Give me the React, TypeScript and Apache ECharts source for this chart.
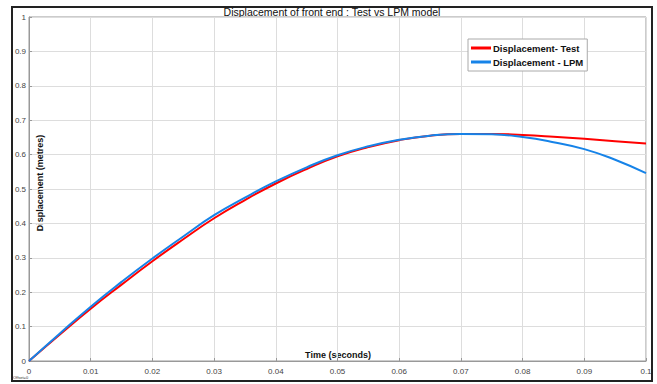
import React, { useEffect, useRef } from "react";
import * as echarts from "echarts";

const timeValues = [0, 0.005, 0.01, 0.015, 0.02, 0.025, 0.03, 0.035, 0.04, 0.045, 0.05, 0.055, 0.06, 0.065, 0.07, 0.075, 0.08, 0.085, 0.09, 0.095, 0.1];
const testValues = [0, 0.077, 0.152, 0.222, 0.29, 0.354, 0.415, 0.468, 0.516, 0.558, 0.595, 0.622, 0.642, 0.655, 0.66, 0.66, 0.657, 0.652, 0.646, 0.639, 0.632];
const lpmValues = [0, 0.08, 0.158, 0.23, 0.298, 0.362, 0.424, 0.475, 0.522, 0.563, 0.598, 0.624, 0.643, 0.655, 0.66, 0.659, 0.651, 0.636, 0.616, 0.585, 0.546];
const seriesNames = ["Displacement- Test", "Displacement - LPM"];
const titleText = "Displacement of front end : Test vs LPM model";
const xLabel = "Time (seconds)";
const yLabel = "Displacement (metres)";

export default function App() {
  const ref = useRef<HTMLDivElement>(null);
  useEffect(() => {
    if (!ref.current) return;
    const chart = echarts.init(ref.current, null, { renderer: "svg" });
    const font = "Liberation Sans, Arial, sans-serif";
    chart.setOption({
      animation: false,
      backgroundColor: "#ffffff",
      textStyle: { fontFamily: font },
      grid: { left: 29, top: 17, right: 11, bottom: 23, containLabel: false, show: true, borderColor: "#999", borderWidth: 1 },
      legend: {
        left: 468,
        top: 39,
        orient: "vertical",
        itemWidth: 20,
        itemHeight: 3,
        itemGap: 4,
        padding: [4, 4, 4, 3],
        borderColor: "#aaa",
        borderWidth: 1,
        backgroundColor: "#fff",
        icon: "rect",
        textStyle: { fontSize: 9.5, fontWeight: "bold", color: "#111", fontFamily: font, padding: [0, 0, 0, -3] },
        data: seriesNames,
      },
      xAxis: {
        type: "value",
        min: 0,
        max: 0.1,
        interval: 0.01,
        axisLine: { show: true, lineStyle: { color: "#999" } },
        axisTick: { show: true, inside: true, length: 3, lineStyle: { color: "#999" } },
        axisLabel: { fontSize: 8, color: "#444", margin: 6, formatter: (v: number) => String(parseFloat(v.toFixed(2))) },
        splitLine: { show: true, lineStyle: { color: "#ddd", width: 1 } },
      },
      yAxis: {
        type: "value",
        min: 0,
        max: 1,
        interval: 0.1,
        axisLine: { show: true, lineStyle: { color: "#999" } },
        axisTick: { show: true, inside: true, length: 3, lineStyle: { color: "#999" } },
        axisLabel: { fontSize: 8, color: "#444", margin: 3, formatter: (v: number) => String(parseFloat(v.toFixed(1))) },
        splitLine: { show: true, lineStyle: { color: "#ddd", width: 1 } },
      },
      series: [
        {
          name: seriesNames[0],
          type: "line",
          smooth: true,
          showSymbol: false,
          lineStyle: { color: "#ff0000", width: 2 },
          itemStyle: { color: "#ff0000" },
          data: timeValues.map((t, i) => [t, testValues[i]]),
        },
        {
          name: seriesNames[1],
          type: "line",
          smooth: true,
          showSymbol: false,
          lineStyle: { color: "#1683e8", width: 2 },
          itemStyle: { color: "#1683e8" },
          data: timeValues.map((t, i) => [t, lpmValues[i]]),
        },
      ],
      graphic: [
        {
          type: "rect",
          shape: { x: 12, y: 7, width: 640, height: 374 },
          style: { fill: "none", stroke: "#222", lineWidth: 2 },
          silent: true,
          z: 100,
        },
        {
          type: "text",
          x: 332,
          y: 12,
          style: { text: titleText, fontSize: 10.5, fill: "#111", fontFamily: font, align: "center", verticalAlign: "middle" },
        },
        {
          type: "text",
          x: 338,
          y: 355,
          style: { text: xLabel, fontSize: 9, fontWeight: "bold", fill: "#111", fontFamily: font, align: "center", verticalAlign: "middle" },
        },
        {
          type: "text",
          x: 40,
          y: 183,
          rotation: Math.PI / 2,
          style: { text: yLabel, fontSize: 9, fontWeight: "bold", fill: "#111", fontFamily: font, align: "center", verticalAlign: "middle" },
        },
        {
          type: "text",
          x: 13,
          y: 377,
          style: { text: "Offset=0", fontSize: 4, fill: "#333", fontFamily: font, align: "left", verticalAlign: "middle" },
        },
      ],
    });
    return () => chart.dispose();
  }, []);
  return <div ref={ref} style={{ position: "fixed", left: 0, top: 0, width: 657, height: 384 }} />;
}
